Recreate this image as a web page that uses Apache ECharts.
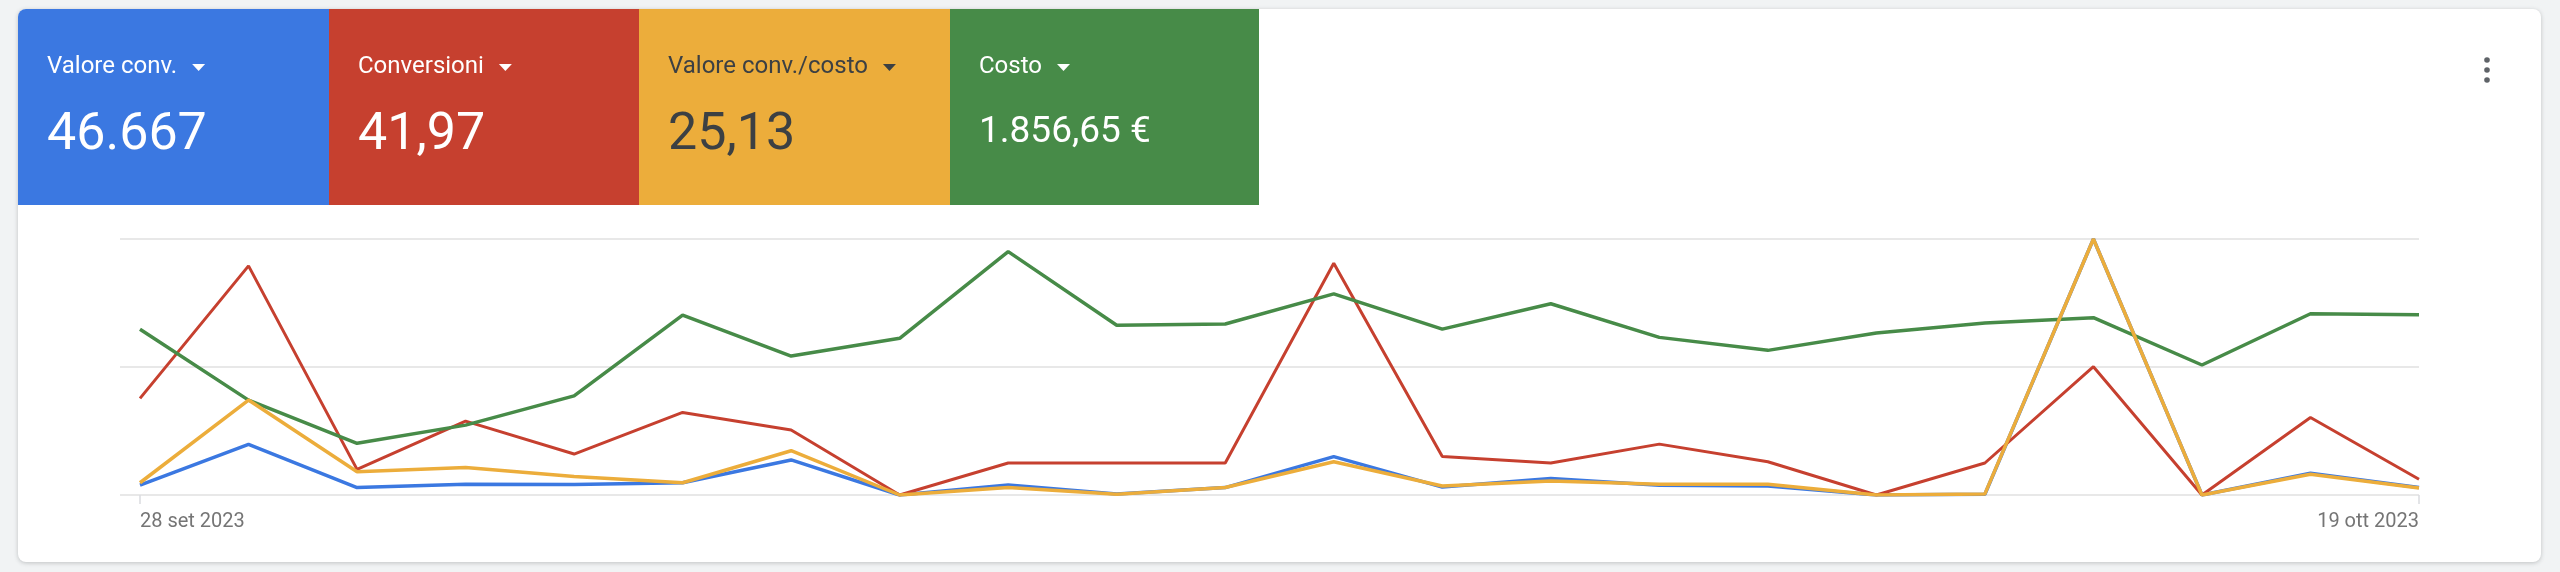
<!DOCTYPE html>
<html>
<head>
<meta charset="utf-8">
<script src="https://cdn.jsdelivr.net/npm/echarts@6/dist/echarts.min.js"></script>
<style>
html,body{margin:0;padding:0;background:#f1f3f4;}
#chart{width:2560px;height:572px;}
</style>
</head>
<body>
<div id="chart"></div>
<script>
// ---- data ----
const dates = ["28 set 2023","29 set 2023","30 set 2023","1 ott 2023","2 ott 2023","3 ott 2023","4 ott 2023","5 ott 2023","6 ott 2023","7 ott 2023","8 ott 2023","9 ott 2023","10 ott 2023","11 ott 2023","12 ott 2023","13 ott 2023","14 ott 2023","15 ott 2023","16 ott 2023","17 ott 2023","18 ott 2023","19 ott 2023"];
const valoreConv = [897,4554,667,966,943,1104,3151,0,897,92,667,3450,713,1472,874,805,0,69,23000,0,1955,667];
const conversioni = [3.02,7.16,0.80,2.31,1.28,2.58,2.03,0,1,1,1,7.24,1.2,1,1.59,1.04,0,1,4.01,0,2.42,0.49];
const valoreCosto = [11.5,89,21.8,25.7,17.3,11.5,41.5,0,7.0,0.7,7.0,31.2,8.4,13.2,10.1,10.1,0,1.0,240,0,19.4,6.5];
const costo = [90.6,51.9,28.3,38.2,54.2,98.4,76.0,85.7,133.1,92.8,93.5,110.0,90.7,104.6,86.2,79.1,88.6,94.1,97.0,71.1,99.1,98.6];
const tileTitles = ["Valore conv.","Conversioni","Valore conv./costo","Costo"];
const tileValues = ["46.667","41,97","25,13","1.856,65 €"];
const axisMax = {valoreConv:23000, conversioni:8, valoreCosto:240, costo:140};

// ---- styles ----
const C = {blue:'#3b78e1', red:'#c6402f', yellow:'#ecad3b', green:'#478b48'};
const tileColors = [C.blue, C.red, C.yellow, C.green];
const tileText = ['#ffffff','#ffffff','#3c4043','#ffffff'];
const tileX = [18, 329, 639, 950];
const tileW = [311, 310, 311, 309];
const FONT = 'Roboto, "Noto Sans", sans-serif';

const mctx = document.createElement('canvas').getContext('2d');
function tw(t, size){ mctx.font = size + 'px ' + FONT; return mctx.measureText(t).width; }

const graphics = [];
graphics.push({type:'rect', z:-10, shape:{x:18,y:9,width:2523,height:553,r:8},
  style:{fill:'#ffffff', shadowBlur:4, shadowColor:'rgba(60,64,67,0.28)', shadowOffsetY:1}});
for (let i=0;i<4;i++){
  graphics.push({type:'rect', z:-9, shape:{x:tileX[i],y:9,width:tileW[i],height:196,r:(i===0?[8,0,0,0]:0)},
    style:{fill:tileColors[i]}});
  const tx = tileX[i] + 29;
  graphics.push({type:'text', z:-8, x:tx, y:67, style:{text:tileTitles[i], fill:tileText[i],
    fontSize:24, fontFamily:FONT, verticalAlign:'middle', align:'left'}});
  const triX = tx + tw(tileTitles[i], 24) + 15;
  graphics.push({type:'polygon', z:-8, shape:{points:[[triX,64],[triX+13,64],[triX+6.5,71]]},
    style:{fill:tileText[i]}});
  const vs = (i===3) ? 37 : 52;
  graphics.push({type:'text', z:-8, x:tx, y:(i===3?133:136), style:{text:tileValues[i], fill:tileText[i],
    fontSize:vs, fontFamily:FONT, verticalAlign:'middle', align:'left'}});
}
[60,70,80].forEach(y=>graphics.push({type:'circle', z:-8, shape:{cx:2487,cy:y,r:2.8}, style:{fill:'#5f6368'}}));

const last = dates.length - 1;
const showEnds = (idx) => idx === 0 || idx === last;

const chart = echarts.init(document.getElementById('chart'), null, {renderer:'canvas'});
chart.setOption({
  backgroundColor:'#f1f3f4',
  animation:false,
  graphic: graphics,
  grid:[
    {left:120, right:141, top:239, bottom:77},
    {left:140, right:141, top:239, bottom:77}
  ],
  xAxis:[
    {gridIndex:0, type:'value', min:0, max:1, show:false},
    {gridIndex:1, type:'category', data:dates, boundaryGap:false,
      axisLine:{show:false},
      axisTick:{show:true, interval:showEnds, length:9, lineStyle:{color:'#dadce0', width:1.5}},
      axisLabel:{interval:showEnds, color:'#757575', fontSize:20, fontFamily:FONT, margin:17,
        alignMinLabel:'left', alignMaxLabel:'right'},
      splitLine:{show:false}}
  ],
  yAxis:[
    {gridIndex:0, type:'value', min:0, max:2, interval:1,
      axisLine:{show:false}, axisTick:{show:false}, axisLabel:{show:false},
      splitLine:{show:true, lineStyle:{color:'#e0e0e0', width:1.5}}},
    {gridIndex:1, type:'value', min:0, max:axisMax.valoreConv, show:false, splitLine:{show:false}},
    {gridIndex:1, type:'value', min:0, max:axisMax.conversioni, show:false, splitLine:{show:false}},
    {gridIndex:1, type:'value', min:0, max:axisMax.valoreCosto, show:false, splitLine:{show:false}},
    {gridIndex:1, type:'value', min:0, max:axisMax.costo, show:false, splitLine:{show:false}}
  ],
  series:[
    {name:'Valore conv.', type:'line', xAxisIndex:1, yAxisIndex:1, data:valoreConv, showSymbol:false, z:2,
      lineStyle:{color:C.blue, width:3.5}, itemStyle:{color:C.blue}},
    {name:'Conversioni', type:'line', xAxisIndex:1, yAxisIndex:2, data:conversioni, showSymbol:false, z:3,
      lineStyle:{color:C.red, width:3}, itemStyle:{color:C.red}},
    {name:'Costo', type:'line', xAxisIndex:1, yAxisIndex:4, data:costo, showSymbol:false, z:4,
      lineStyle:{color:C.green, width:3.5}, itemStyle:{color:C.green}},
    {name:'Valore conv./costo', type:'line', xAxisIndex:1, yAxisIndex:3, data:valoreCosto, showSymbol:false, z:5,
      lineStyle:{color:C.yellow, width:3.5}, itemStyle:{color:C.yellow}}
  ]
});
</script>
</body>
</html>
